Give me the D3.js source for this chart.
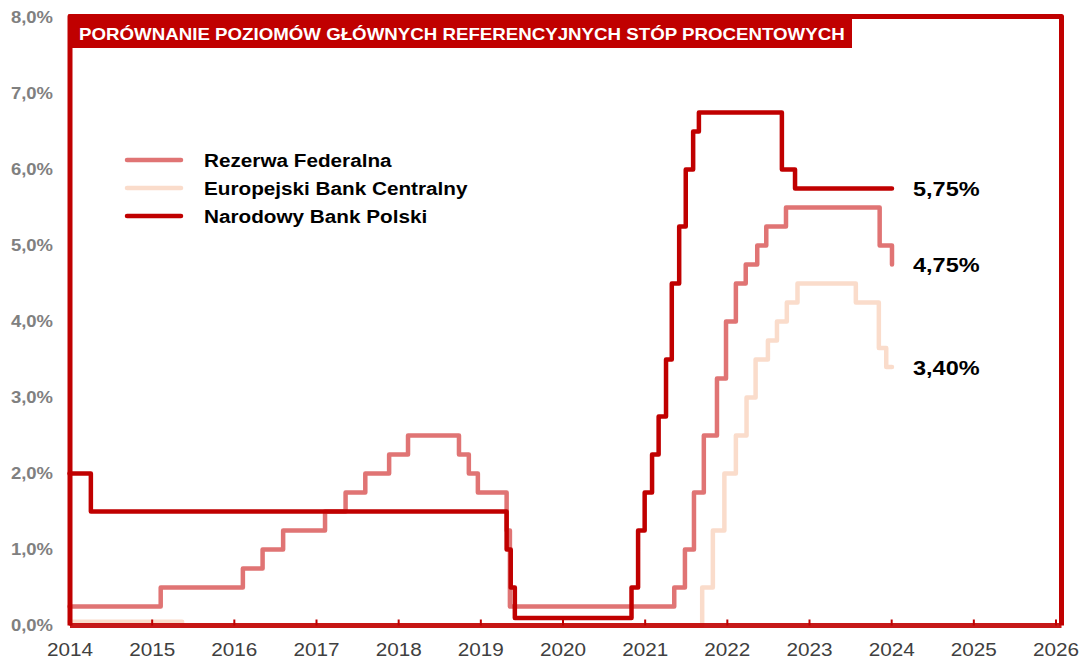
<!DOCTYPE html>
<html>
<head>
<meta charset="utf-8">
<script src="https://cdn.jsdelivr.net/npm/d3@7"></script>
<style>
  body { margin: 0; background: #fff; }
  svg { font-family: "Liberation Sans", Arial, sans-serif; display: block; }
</style>
</head>
<body>
<div class="canvas"></div>
<script>
// data (x = decimal year, y = rate in %)
const fedDates = [2014.00, 2015.11, 2016.11, 2016.35, 2016.60, 2017.11, 2017.36, 2017.60, 2017.89, 2018.12, 2018.74, 2018.86, 2018.97, 2019.32, 2019.36, 2021.36, 2021.49, 2021.60, 2021.72, 2021.88, 2021.99, 2022.11, 2022.23, 2022.37, 2022.48, 2022.72, 2023.86, 2024.01]
const fedRates = [0.25, 0.5, 0.75, 1.0, 1.25, 1.5, 1.75, 2.0, 2.25, 2.5, 2.25, 2.0, 1.75, 1.25, 0.25, 0.5, 1.0, 1.75, 2.5, 3.25, 4.0, 4.5, 4.75, 5.0, 5.25, 5.5, 5.0, 4.75]

const ecbDates = [2014.00, 2015.37, 2021.70, 2021.83, 2021.97, 2022.11, 2022.24, 2022.35, 2022.50, 2022.61, 2022.73, 2022.86, 2023.57, 2023.85, 2023.94, 2024.01]
const ecbRates = [0.05, 0, 0.5, 1.25, 2.0, 2.5, 3.0, 3.5, 3.75, 4.0, 4.25, 4.5, 4.25, 3.65, 3.4, 3.4]

const nbpDates = [2014.00, 2014.26, 2019.32, 2019.37, 2019.42, 2020.84, 2020.92, 2021.00, 2021.09, 2021.17, 2021.26, 2021.33, 2021.42, 2021.50, 2021.59, 2021.66, 2022.67, 2022.83, 2024.01]
const nbpRates = [2.0, 1.5, 1.0, 0.5, 0.1, 0.5, 1.25, 1.75, 2.25, 2.75, 3.5, 4.5, 5.25, 6.0, 6.5, 6.75, 6.0, 5.75, 5.75]

const seriesNames = ['Rezerwa Federalna', 'Europejski Bank Centralny', 'Narodowy Bank Polski']
const yearTicks = d3.range(2014, 2027)
const rateTicks = d3.range(0, 9)
const title = 'PORÓWNANIE POZIOMÓW GŁÓWNYCH REFERENCYJNYCH STÓP PROCENTOWYCH'

const red = '#C00000'
const colors = ['#E07474', '#FADCCB', red]
const SX = 1.12 // text in the picture is a little wider than normal

const svg = d3.select('.canvas')
  .append('svg')
  .attr('width', 1080)
  .attr('height', 659)

const x = d3.scaleLinear().domain([2014, 2026]).range([69.5, 1055.5])
const y = d3.scaleLinear().domain([0, 8]).range([625.5, 17.5])

const comma = (v, d) => d3.format('.' + d + 'f')(v).replace('.', ',') + '%'

// y axis labels only
const yAxis = d3.axisLeft(y)
  .tickValues(rateTicks)
  .tickSize(0)
  .tickPadding(18)
  .tickFormat(d => comma(d, 1))
const yAxisGroup = svg.append('g').attr('transform', 'translate(70,0)').call(yAxis)
yAxisGroup.select('.domain').remove()
yAxisGroup.selectAll('text')
  .attr('x', null)
  .attr('transform', `translate(-17,0) scale(${SX},1)`)
  .attr('fill', '#808080')
  .attr('font-size', '16.5px')
  .attr('font-weight', 'bold')
  .attr('font-family', '"Liberation Sans", Arial, sans-serif')

// series
const series = [
  { name: seriesNames[0], pts: d3.zip(fedDates, fedRates), color: colors[0] },
  { name: seriesNames[1], pts: d3.zip(ecbDates, ecbRates), color: colors[1] },
  { name: seriesNames[2], pts: d3.zip(nbpDates, nbpRates), color: colors[2] }
]

const line = d3.line()
  .x(d => x(d[0]))
  .y(d => y(d[1]))
  .curve(d3.curveStepAfter)

// draw ECB first, then Fed, then NBP on top
const drawOrder = [series[1], series[0], series[2]]
svg.append('g').selectAll('path')
  .data(drawOrder)
  .enter()
  .append('path')
    .attr('d', d => line(d.pts))
    .attr('fill', 'none')
    .attr('stroke', d => d.color)
    .attr('stroke-width', 4.5)
    .attr('stroke-linejoin', 'round')
    .attr('stroke-linecap', 'round')

// frame (left, top, right)
svg.append('path')
  .attr('d', 'M70,625.5 V16.5 H1061.5 V625.5')
  .attr('fill', 'none')
  .attr('stroke', red)
  .attr('stroke-width', 5)
  .attr('stroke-linejoin', 'round')

// x axis
const xAxis = d3.axisBottom(x)
  .tickValues(yearTicks)
  .tickSizeInner(-6)
  .tickSizeOuter(0)
  .tickPadding(17)
  .tickFormat(d3.format('d'))
const xAxisGroup = svg.append('g').attr('transform', `translate(0,${y(0)})`).call(xAxis)
xAxisGroup.select('.domain')
  .attr('d', `M70,0 H1061.5`)
  .attr('stroke', red)
  .attr('stroke-width', 5)
  .attr('stroke-opacity', 0.9)
xAxisGroup.selectAll('.tick line').attr('stroke', red).attr('stroke-width', 2)
xAxisGroup.selectAll('text')
  .attr('transform', `scale(${SX},1)`)
  .attr('fill', '#404040')
  .attr('font-size', '18.5px')
  .attr('font-family', '"Liberation Sans", Arial, sans-serif')

// title bar
svg.append('rect')
  .attr('x', 68).attr('y', 14.5)
  .attr('width', 784).attr('height', 33.5)
  .attr('fill', red)
svg.append('text')
  .attr('transform', `translate(79,40) scale(${SX},1)`)
  .attr('fill', '#fff')
  .attr('font-size', '16.7px')
  .attr('font-weight', 'bold')
  .text(title)

// legend
const legend = svg.append('g').attr('transform', 'translate(127,160)')
const rows = legend.selectAll('g')
  .data(series)
  .enter()
  .append('g')
    .attr('transform', (d, i) => `translate(0,${i * 28})`)
rows.append('line')
  .attr('x1', 0).attr('x2', 54)
  .attr('stroke', d => d.color)
  .attr('stroke-width', 4.5)
  .attr('stroke-linecap', 'round')
rows.append('text')
  .attr('transform', `translate(77,0) scale(${SX},1)`)
  .attr('dy', '0.36em')
  .attr('font-size', '18.5px')
  .attr('font-weight', 'bold')
  .attr('fill', '#000')
  .text(d => d.name)

// end labels
svg.append('g').selectAll('text')
  .data(series)
  .enter()
  .append('text')
    .attr('transform', d => {
      const last = d.pts[d.pts.length - 1]
      return `translate(${x(last[0]) + 21},${y(last[1])}) scale(${SX},1)`
    })
    .attr('dy', '0.36em')
    .attr('font-size', '21px')
    .attr('font-weight', 'bold')
    .attr('fill', '#000')
    .text(d => comma(d.pts[d.pts.length - 1][1], 2))
</script>
</body>
</html>
